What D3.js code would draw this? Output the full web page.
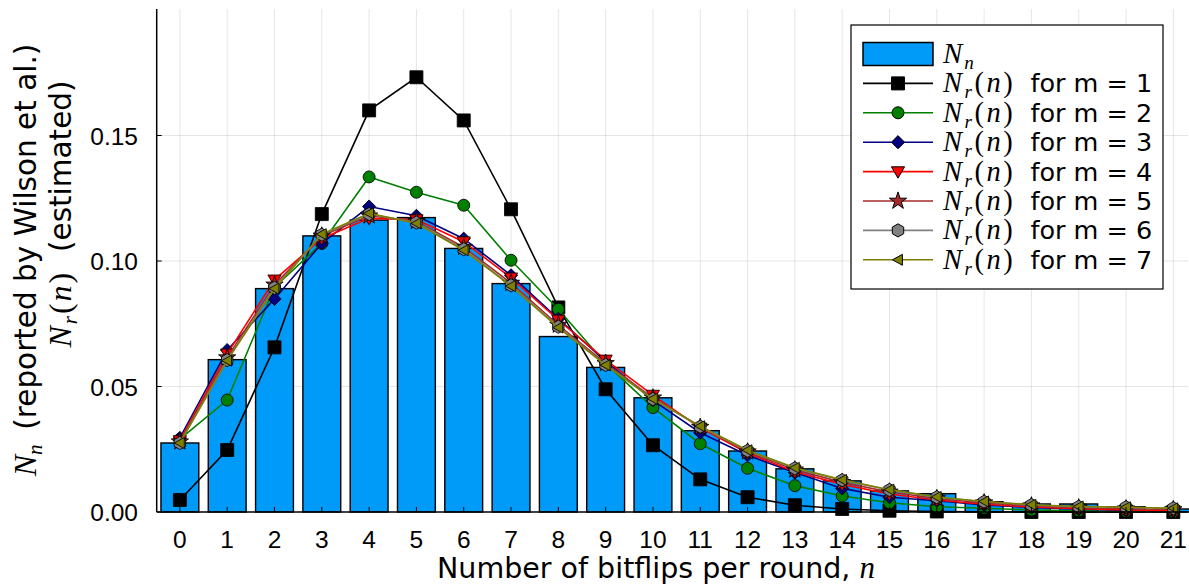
<!DOCTYPE html>
<html>
<head>
<meta charset="utf-8">
<script src="https://cdn.jsdelivr.net/npm/d3@7"></script>
<style>
  html, body { margin: 0; padding: 0; background: #fff; }
  svg { display: block; }
</style>
</head>
<body>
<svg id="chart" width="1189" height="585"></svg>
<script>
// ---- data ----
const categories = d3.range(0, 22); // n = 0..21
const xTickLabels = categories.map(String);
const yTicks = [0.00, 0.05, 0.10, 0.15];
const yTickLabels = ["0.00", "0.05", "0.10", "0.15"];

const reportedNn = [0.0275, 0.0607, 0.0890, 0.1100, 0.1163, 0.1173, 0.1050, 0.0910, 0.0699, 0.0576,
                    0.0455, 0.0324, 0.0243, 0.0172, 0.0124, 0.0084, 0.0073, 0.0041, 0.0032, 0.0032,
                    0.0021, 0.0012];

const estM1 = [0.0048, 0.0247, 0.0656, 0.1187, 0.1600, 0.1732, 0.1560, 0.1206, 0.0815, 0.0489,
               0.0266, 0.0130, 0.0059, 0.0027, 0.0012, 0.0005, 0.0002, 0.0001, 0.0000, 0.0000, 0.0000, 0.0000];
const estM2 = [0.0290, 0.0446, 0.0896, 0.1070, 0.1335, 0.1274, 0.1222, 0.1003, 0.0808, 0.0592,
               0.0416, 0.0272, 0.0174, 0.0105, 0.0064, 0.0037, 0.0021, 0.0015, 0.0008, 0.0005, 0.0003, 0.0001];
const estM3 = [0.0295, 0.0645, 0.0849, 0.1070, 0.1217, 0.1180, 0.1089, 0.0943, 0.0770, 0.0600,
               0.0445, 0.0316, 0.0226, 0.0157, 0.0094, 0.0059, 0.0045, 0.0028, 0.0018, 0.0011, 0.0007, 0.0004];
const estM4 = [0.0285, 0.0630, 0.0925, 0.1090, 0.1170, 0.1165, 0.1077, 0.0933, 0.0765, 0.0606,
               0.0466, 0.0335, 0.0235, 0.0160, 0.0110, 0.0072, 0.0048, 0.0031, 0.0020, 0.0013, 0.0008, 0.0005];
const estM5 = [0.0280, 0.0615, 0.0905, 0.1100, 0.1180, 0.1158, 0.1055, 0.0912, 0.0745, 0.0592,
               0.0455, 0.0338, 0.0240, 0.0168, 0.0118, 0.0080, 0.0054, 0.0037, 0.0025, 0.0017, 0.0013, 0.0010];
const estM6 = [0.0275, 0.0605, 0.0893, 0.1105, 0.1187, 0.1153, 0.1047, 0.0903, 0.0738, 0.0586,
               0.0450, 0.0340, 0.0244, 0.0174, 0.0127, 0.0088, 0.0059, 0.0041, 0.0028, 0.0021, 0.0019, 0.0015];
const estM7 = [0.0275, 0.0603, 0.0890, 0.1107, 0.1190, 0.1150, 0.1043, 0.0900, 0.0735, 0.0585,
               0.0451, 0.0342, 0.0246, 0.0176, 0.0128, 0.0089, 0.0060, 0.0042, 0.0029, 0.0022, 0.0019, 0.0015];

const seriesNames = ["1", "2", "3", "4", "5", "6", "7"];
const seriesValues = [estM1, estM2, estM3, estM4, estM5, estM6, estM7];

// ---- styles ----
const seriesColors = ["#000000", "#008000", "#000080", "#ff0000", "#a52a2a", "#808080", "#808000"];
const seriesShapes = ["square", "circle", "diamond", "dtriangle", "star", "hexagon", "ltriangle"];
const barColor = "#009af9";

const svg = d3.select("#chart");
const pLeft = 156.7, pRight = 1188, pTop = 9, pBottom = 512;

const x = d3.scaleLinear().domain([-0.49, 21.31]).range([pLeft, pRight]);
const y = d3.scaleLinear().domain([0, 0.2004]).range([pBottom, pTop]);
const bw = x(0.8) - x(0);

// grid
const grid = svg.append("g");
grid.selectAll("line.vx").data(categories).enter().append("line")
  .attr("x1", d => x(d)).attr("x2", d => x(d)).attr("y1", pTop).attr("y2", pBottom)
  .attr("stroke", "#000").attr("stroke-opacity", 0.1).attr("stroke-width", 1);
grid.selectAll("line.hy").data(yTicks.slice(1)).enter().append("line")
  .attr("x1", pLeft).attr("x2", pRight).attr("y1", d => y(d)).attr("y2", d => y(d))
  .attr("stroke", "#000").attr("stroke-opacity", 0.1).attr("stroke-width", 1);

// bars
svg.append("g").selectAll("rect").data(categories).enter().append("rect")
  .attr("x", d => x(d) - bw / 2).attr("width", bw)
  .attr("y", d => y(reportedNn[d])).attr("height", d => y(0) - y(reportedNn[d]))
  .attr("fill", barColor).attr("stroke", "#000").attr("stroke-width", 1.4);

// marker paths
function markerPath(shape, s) {
  switch (shape) {
    case "square": return `M${-s},${-s}H${s}V${s}H${-s}Z`;
    case "circle": return d3.symbol(d3.symbolCircle, Math.PI * s * s)();
    case "diamond": return `M0,${-s * 1.2}L${s * 1.2},0L0,${s * 1.2}L${-s * 1.2},0Z`;
    case "dtriangle": return `M${-s * 1.1},${-s * 0.8}L${s * 1.1},${-s * 0.8}L0,${s * 1.1}Z`;
    case "star": return d3.symbol(d3.symbolStar, s * s * 2.2)();
    case "hexagon": {
      const pts = d3.range(6).map(i => { const a = Math.PI / 6 + i * Math.PI / 3; return [s * 1.1 * Math.cos(a), s * 1.1 * Math.sin(a)]; });
      return "M" + pts.map(p => p.join(",")).join("L") + "Z";
    }
    case "ltriangle": return `M${-s * 1.0},0L${s * 0.8},${-s * 1.0}L${s * 0.8},${s * 1.0}Z`;
  }
}
const markerSizes = [6.5, 6, 5.5, 6, 6.5, 6, 5.5];

const line = d3.line().x((d, i) => x(categories[i])).y(d => y(d));
seriesValues.forEach((vals, k) => {
  const g = svg.append("g");
  g.append("path").datum(vals).attr("d", line)
    .attr("fill", "none").attr("stroke", seriesColors[k]).attr("stroke-width", 1.6);
  g.selectAll("path.m").data(vals).enter().append("path")
    .attr("transform", (d, i) => `translate(${x(categories[i])},${y(d)})`)
    .attr("d", markerPath(seriesShapes[k], markerSizes[k]))
    .attr("fill", seriesColors[k]).attr("stroke", "#000").attr("stroke-width", 1)
    .attr("stroke-opacity", 0.85);
});

// axes spines
svg.append("line").attr("x1", pLeft).attr("x2", pLeft).attr("y1", pTop).attr("y2", pBottom)
  .attr("stroke", "#000").attr("stroke-width", 1.5);
svg.append("line").attr("x1", pLeft).attr("x2", pRight).attr("y1", pBottom).attr("y2", pBottom)
  .attr("stroke", "#000").attr("stroke-width", 1.5);

// ticks (inward)
svg.append("g").selectAll("line").data(categories).enter().append("line")
  .attr("x1", d => x(d)).attr("x2", d => x(d)).attr("y1", pBottom).attr("y2", pBottom - 5)
  .attr("stroke", "#000").attr("stroke-width", 1);
svg.append("g").selectAll("line").data(yTicks).enter().append("line")
  .attr("x1", pLeft).attr("x2", pLeft + 5).attr("y1", d => y(d)).attr("y2", d => y(d))
  .attr("stroke", "#000").attr("stroke-width", 1);

const tickFont = "'Liberation Sans', Arial, sans-serif";
svg.append("g").selectAll("text").data(categories).enter().append("text")
  .attr("x", d => x(d)).attr("y", 548)
  .attr("text-anchor", "middle").attr("font-family", tickFont).attr("font-size", 24.5)
  .text((d, i) => xTickLabels[i]);
svg.append("g").selectAll("text").data(yTicks).enter().append("text")
  .attr("x", 138).attr("y", d => y(d) + 9)
  .attr("text-anchor", "end").attr("font-family", tickFont).attr("font-size", 24.5)
  .text((d, i) => yTickLabels[i]);

const labFont = "'DejaVu Sans', sans-serif";
const mathFont = "'Liberation Serif', 'DejaVu Serif', serif";

// x label
const xl = svg.append("text").attr("x", 656).attr("y", 578).attr("text-anchor", "middle")
  .attr("font-family", labFont).attr("font-size", 28.5);
xl.append("tspan").text("Number of bitflips per round, ");
xl.append("tspan").attr("font-family", mathFont).attr("font-style", "italic").attr("font-size", 31).text("n");

// y label line 1
const yl1 = svg.append("text").attr("transform", "translate(36,260) rotate(-90)")
  .attr("text-anchor", "middle").attr("font-family", labFont).attr("font-size", 29.5);
yl1.append("tspan").attr("font-family", mathFont).attr("font-style", "italic").attr("font-size", 32).text("N");
yl1.append("tspan").attr("font-family", mathFont).attr("font-style", "italic").attr("font-size", 21).attr("dy", 6).text("n");
yl1.append("tspan").attr("dy", -6).text("\u2002(reported by Wilson et al.)");

// y label line 2
const yl2 = svg.append("text").attr("transform", "translate(71,214) rotate(-90)")
  .attr("text-anchor", "middle").attr("font-family", labFont).attr("font-size", 29.5);
yl2.append("tspan").attr("font-family", mathFont).attr("font-style", "italic").attr("font-size", 32).attr("letter-spacing", 2).text("N");
yl2.append("tspan").attr("font-family", mathFont).attr("font-style", "italic").attr("font-size", 21).attr("dy", 6).attr("letter-spacing", 2).text("r");
yl2.append("tspan").attr("font-family", mathFont).attr("font-size", 32).attr("dy", -6).attr("letter-spacing", 2).text("(");
yl2.append("tspan").attr("font-family", mathFont).attr("font-style", "italic").attr("font-size", 32).attr("letter-spacing", 2).text("n");
yl2.append("tspan").attr("font-family", mathFont).attr("font-size", 32).text(")");
yl2.append("tspan").attr("dx", 6).text("\u2002(estimated)");

// legend
const lg = svg.append("g");
lg.append("rect").attr("x", 851).attr("y", 25).attr("width", 312).attr("height", 264)
  .attr("fill", "#fff").attr("stroke", "#000").attr("stroke-width", 1.2);
const ly0 = 54, lstep = 29.4;
lg.append("rect").attr("x", 863).attr("y", ly0 - 11.5).attr("width", 70).attr("height", 23)
  .attr("fill", barColor).attr("stroke", "#000").attr("stroke-width", 1.5);
const t0 = lg.append("text").attr("x", 943).attr("y", ly0 + 9).attr("font-family", mathFont)
  .attr("font-style", "italic").attr("font-size", 29);
t0.append("tspan").attr("letter-spacing", 2).text("N");
t0.append("tspan").attr("font-size", 19).attr("dy", 6).text("n");

seriesNames.forEach((nm, k) => {
  const yy = ly0 + lstep * (k + 1);
  lg.append("line").attr("x1", 863).attr("x2", 933).attr("y1", yy).attr("y2", yy)
    .attr("stroke", seriesColors[k]).attr("stroke-width", 1.6);
  lg.append("path").attr("transform", `translate(898,${yy})`)
    .attr("d", markerPath(seriesShapes[k], markerSizes[k]))
    .attr("fill", seriesColors[k]).attr("stroke", "#000").attr("stroke-width", 1);
  const t = lg.append("text").attr("x", 943).attr("y", yy + 9).attr("font-family", mathFont).attr("font-size", 28.5);
  t.append("tspan").attr("font-style", "italic").attr("letter-spacing", 2.5).text("N");
  t.append("tspan").attr("font-style", "italic").attr("font-size", 19).attr("dy", 6).attr("letter-spacing", 2.5).text("r");
  t.append("tspan").attr("dy", -6).attr("letter-spacing", 2.5).text("(");
  t.append("tspan").attr("font-style", "italic").attr("letter-spacing", 2.5).text("n");
  t.append("tspan").text(")");
  t.append("tspan").attr("font-family", labFont).attr("font-size", 25.5).attr("dx", 5).text("\u2002for m = " + nm);
});
</script>
</body>
</html>
